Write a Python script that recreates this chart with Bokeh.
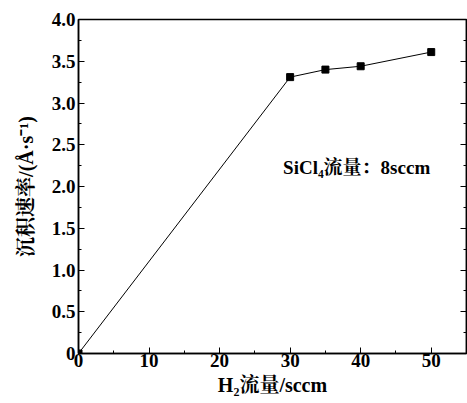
from bokeh.plotting import figure
from bokeh.models import Range1d, SingleIntervalTicker, LinearAxis, CustomJSTickFormatter, Label
from bokeh.embed import file_html
from bokeh.resources import INLINE

h2_flow = [0, 30, 35, 40, 50]
rate = [0.0, 3.31, 3.40, 3.44, 3.61]
annotation = "SiCl₄流量：8sccm"
x_label = "H₂流量/sccm"
y_label = "沉积速率/(Å·s⁻¹)"

SERIF = "'Liberation Serif', 'Noto Serif CJK SC', 'Noto Sans CJK SC', serif"

p = figure(width=467, height=403, output_backend="svg", toolbar_location=None,
           x_range=Range1d(0, 55), y_range=Range1d(0, 4.0),
           min_border_left=78, min_border_top=19, min_border_bottom=50, min_border_right=1)
p.xgrid.visible = False
p.ygrid.visible = False
p.outline_line_color = "black"
p.outline_line_width = 1.5
p.background_fill_color = "white"
p.border_fill_color = "white"

p.line(h2_flow, rate, line_color="black", line_width=1)
p.scatter(h2_flow, rate, marker="square", size=7, color="black")

xt = SingleIntervalTicker(interval=10, num_minor_ticks=2)
yt = SingleIntervalTicker(interval=0.5, num_minor_ticks=2)
p.xaxis.ticker = xt
p.yaxis.ticker = yt
p.yaxis.formatter = CustomJSTickFormatter(code="return tick == 0 ? '0' : tick.toFixed(1);")

for ax in (p.xaxis[0], p.yaxis[0]):
    ax.axis_line_color = "black"
    ax.axis_line_width = 1.5
    ax.major_tick_in = 6
    ax.major_tick_out = 0
    ax.minor_tick_in = 3
    ax.minor_tick_out = 0
    ax.major_label_text_font = SERIF
    ax.major_label_text_font_style = "bold"
    ax.major_label_text_font_size = "19px"
    ax.major_label_text_color = "black"
    ax.axis_label_text_font = SERIF
    ax.axis_label_text_font_style = "bold"
    ax.axis_label_text_font_size = "20px"
    ax.axis_label_text_color = "black"

p.xaxis.axis_label = x_label
p.xaxis.major_label_standoff = 0
p.xaxis.axis_label_standoff = 4
p.yaxis.axis_label = y_label
p.yaxis.major_label_standoff = 3
p.yaxis.axis_label_standoff = 12

right = LinearAxis(ticker=SingleIntervalTicker(interval=0.5, num_minor_ticks=2),
                   major_tick_in=6, major_tick_out=0, minor_tick_in=3, minor_tick_out=0,
                   major_label_text_font_size="0px", axis_line_color="black", axis_line_width=1.5)
right.formatter = CustomJSTickFormatter(code="return '';")
p.add_layout(right, "right")

p.add_layout(Label(x=29.0, y=2.23, text=annotation, text_font=SERIF, text_font_style="bold",
                   text_font_size="19px", text_color="black", text_baseline="middle", text_align="left"))

open("out.html", "w").write(file_html(p, INLINE))
